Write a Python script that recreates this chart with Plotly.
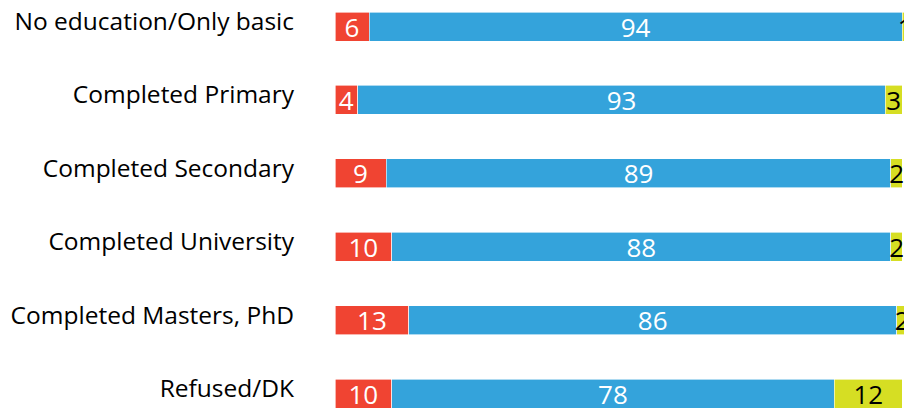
import plotly.graph_objects as go

categories = ["No education/Only basic", "Completed Primary", "Completed Secondary",
              "Completed University", "Completed Masters, PhD", "Refused/DK"]
red_vals = [6, 4, 9, 10, 13, 10]
blue_vals = [94, 93, 89, 88, 86, 78]
yellow_vals = [1, 3, 2, 2, 2, 12]

colors = {"red": "#F04432", "blue": "#34A3DB", "yellow": "#D6DE23"}
FONT = "Open Sans"

fig = go.Figure()
for name, vals, col, tcol in [("red", red_vals, colors["red"], "white"),
                              ("blue", blue_vals, colors["blue"], "white"),
                              ("yellow", yellow_vals, colors["yellow"], "black")]:
    fig.add_trace(go.Bar(
        y=categories, x=vals, orientation="h", name=name,
        marker=dict(color=col, line=dict(color="white", width=0.6)),
        text=[str(v) for v in vals], textposition="inside", textangle=0,
        insidetextanchor="middle", constraintext="none",
        textfont=dict(family=FONT, size=26, color=tcol),
        width=0.395, cliponaxis=True,
    ))

fig.update_layout(
    barmode="stack", width=904, height=409,
    margin=dict(l=335, r=0, t=0, b=0, autoexpand=False),
    paper_bgcolor="white", plot_bgcolor="white",
    showlegend=False,
    xaxis=dict(range=[0, 100.3], visible=False, fixedrange=True, automargin=False),
    yaxis=dict(categoryorder="array", categoryarray=categories, automargin=False,
               range=[5.211, -0.361], showgrid=False, zeroline=False, showline=False,
               ticks="", ticklabelstandoff=40, ticklabelshift=5, fixedrange=True,
               tickfont=dict(family=FONT, size=24.5, color="black")),
)
fig.write_html("out.html", config={"displayModeBar": False},
               post_script="document.body.style.margin='0';")
